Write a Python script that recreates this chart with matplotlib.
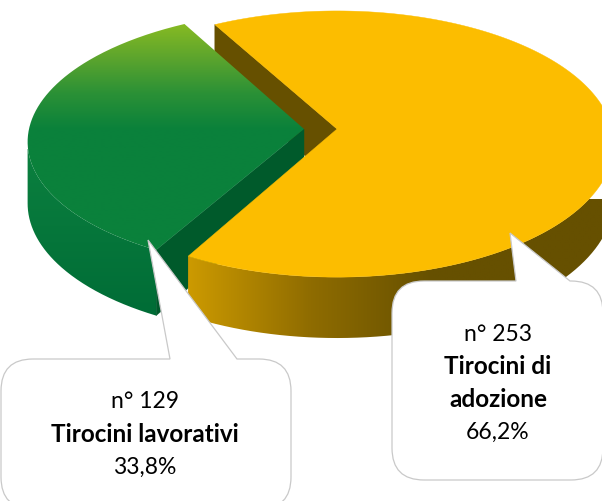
# -*- coding: utf-8 -*-

# plot.py

import matplotlib
matplotlib.use("Agg")
import matplotlib.pyplot as plt
import numpy as np
from matplotlib.colors import LinearSegmentedColormap
from matplotlib.patches import PathPatch
from matplotlib.path import Path

values = [253, 129]
counts = ["n° 253", "n° 129"]
names = [["Tirocini di", "adozione"], ["Tirocini lavorativi"]]
shares = ["66,2%", "33,8%"]

plt.rcParams['font.family'] = ['Lato', 'DejaVu Sans']


def project(angles, cx, cy, ax_x, ax_y, k, skew=0.0, drop=0.0):
    # unit circle seen in perspective, front of the disc is nearer
    u = np.cos(np.radians(angles))
    v = -np.sin(np.radians(angles))
    w = 1 - k * v
    y = ax_y * v / w
    x = ax_x * u / w + skew * y
    return np.column_stack([cx + x, cy + y + drop / w])


def poly(points):
    return Path(np.vstack([points, points[:1]]))


def fill_gradient(ax, path, colors, extent, vertical=True):
    cmap = LinearSegmentedColormap.from_list("g", colors)
    ramp = np.linspace(0, 1, 256)
    ramp = ramp.reshape(-1, 1) if vertical else ramp.reshape(1, -1)
    im = ax.imshow(ramp, cmap=cmap, extent=extent, aspect="auto", origin="upper",
                   interpolation="bilinear", zorder=ax.zcount)
    patch = PathPatch(path, transform=ax.transData, fc="none", ec="none")
    ax.add_patch(patch)
    im.set_clip_path(patch)
    ax.zcount += 1


def fill_flat(ax, path, color):
    ax.add_patch(PathPatch(path, fc=color, ec=color, lw=0.3, zorder=ax.zcount))
    ax.zcount += 1


def callout(ax, x0, y0, x1, y1, r, tail):
    # rounded box with a pointer on its top edge
    verts = [(x0 + r, y0), (tail[0][0], y0), tail[1], (tail[2][0], y0), (x1 - r, y0),
             (x1, y0), (x1, y0 + r), (x1, y1 - r), (x1, y1), (x1 - r, y1),
             (x0 + r, y1), (x0, y1), (x0, y1 - r), (x0, y0 + r), (x0, y0), (x0 + r, y0)]
    codes = [Path.MOVETO, Path.LINETO, Path.LINETO, Path.LINETO, Path.LINETO,
             Path.CURVE3, Path.CURVE3, Path.LINETO, Path.CURVE3, Path.CURVE3,
             Path.LINETO, Path.CURVE3, Path.CURVE3, Path.LINETO, Path.CURVE3, Path.CURVE3]
    ax.add_patch(PathPatch(Path(verts, codes), fc="white", ec="#C9C9C9", lw=0.9, zorder=50))


if __name__ == "__main__":
    fig = plt.figure(figsize=(6.02, 5.02), dpi=100)
    ax = fig.add_axes([0, 0, 1, 1])
    ax.zcount = 1

    total = float(sum(values))
    sweep_y = 360.0 * values[0] / total
    sweep_g = 360.0 * values[1] / total
    start = 180.0 - sweep_g / 2.0
    end_y = start - sweep_y
    end_g = 180.0 + sweep_g / 2.0

    # yellow slice frame
    yc = dict(cx=337, cy=130, ax_x=275, ax_y=131.4, k=0.113)
    # green slice frame, pulled out to the left
    gc = dict(cx=307, cy=130, ax_x=278, ax_y=128.8, k=0.081, skew=-0.04)
    depth_y = 54
    depth_g = 61
    apex_y = np.array([[337.0, 130.0]])
    apex_g = np.array([[304.0, 130.0]])

    # back wall of the yellow slice
    back = project(np.array([start]), **yc)
    fill_flat(ax, poly(np.vstack([back, apex_y, apex_y + [0, depth_y],
                                  back + [0, depth_y]])), "#665000")

    # green outer side, only from the leftmost point round to the front
    a = np.linspace(start, end_g, 400)
    left = a[np.argmin(project(a, **gc)[:, 0])]
    a = np.linspace(left, end_g, 200)
    top = project(a, **gc)
    bottom = project(a, drop=depth_g, **gc)
    fill_gradient(ax, poly(np.vstack([top, bottom[::-1]])),
                  ["#0B803F", "#006C36"], (0, 602, 320, 150))

    # green inner wall
    front = project(np.array([end_g]), **gc)
    front_low = project(np.array([end_g]), drop=depth_g, **gc)
    fill_flat(ax, poly(np.vstack([apex_g, front, front_low, apex_g + [0, depth_y + 6]])), "#005A2B")

    # green top
    a = np.linspace(start, end_g, 200)
    top = project(a, **gc)
    fill_gradient(ax, poly(np.vstack([apex_g, top])),
                  ["#8ABC22", "#5DA52D", "#2B9136", "#0A813B",
                   "#0A813B", "#0A813B", "#0A813B", "#0A813B"],
                  (0, 602, 274, 22))

    # yellow outer side
    a = np.linspace(end_y, 0, 200)
    top = project(a, **yc)
    bottom = project(a, drop=depth_y, **yc)
    fill_gradient(ax, poly(np.vstack([top, bottom[::-1]])),
                  ["#CC9A00", "#8F6C00", "#665000", "#665000", "#665000"],
                  (188, 676, 345, 200), vertical=False)

    # yellow top
    a = np.linspace(start, end_y, 400)
    fill_flat(ax, poly(np.vstack([apex_y, project(a, **yc)])), "#FCBD00")

    callout(ax, 392, 282, 603, 481, 32, [(516, 282), (510, 234), (570, 282)])
    callout(ax, 1, 360, 291, 510, 32, [(170, 360), (148, 241), (237, 360)])

    rows = [(498, [335, 367, 400, 432]), (145, [402, 435, 467])]
    for i, (x, ys) in enumerate(rows):
        lines = [(counts[i], "normal", 16.5)] + [(n, "bold", 17.5) for n in names[i]]
        lines += [(shares[i], "normal", 16.5)]
        for (txt, weight, fs), y in zip(lines, ys):
            ax.text(x, y, txt, ha="center", va="center", fontsize=fs,
                    fontweight=weight, color="black", zorder=60)

    ax.set_xlim(0, 602)
    ax.set_ylim(502, 0)
    ax.axis("off")
    fig.savefig("out.png", dpi=100, facecolor="white")
